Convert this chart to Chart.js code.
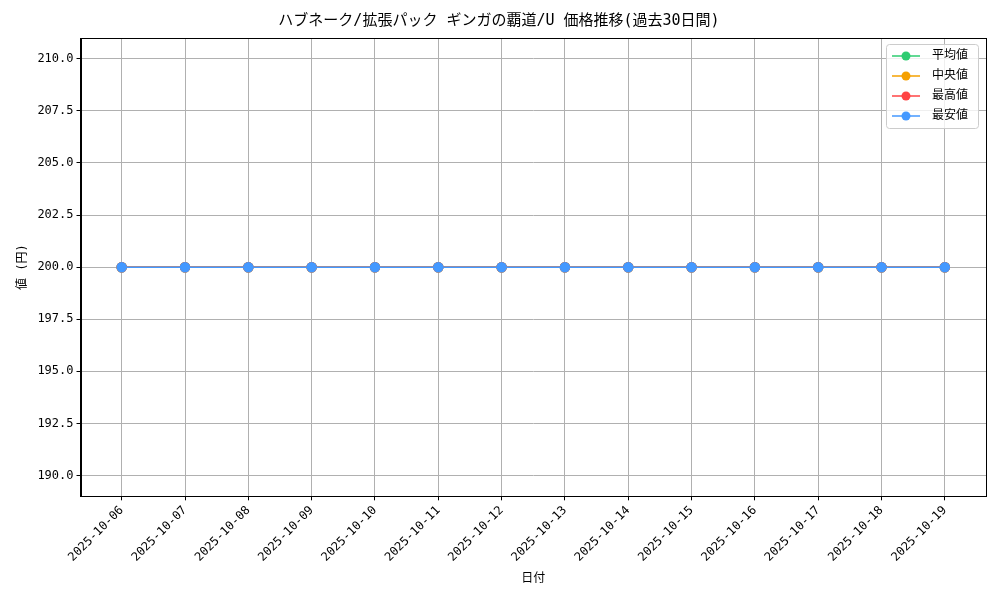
<!DOCTYPE html>
<html>
<head>
<meta charset="utf-8">
<script src="https://cdn.jsdelivr.net/npm/chart.js@4"></script>
<style>
  html, body { margin: 0; padding: 0; background: #fff; }
  #wrap { width: 1000px; height: 600px; }
</style>
</head>
<body>
<div id="wrap"><canvas id="priceChart" width="1000" height="600"></canvas></div>
<script>
const fechas = ["2025-10-06","2025-10-07","2025-10-08","2025-10-09","2025-10-10","2025-10-11","2025-10-12",
  "2025-10-13","2025-10-14","2025-10-15","2025-10-16","2025-10-17","2025-10-18","2025-10-19"];
const promedio = [200,200,200,200,200,200,200,200,200,200,200,200,200,200];
const mediana  = [200,200,200,200,200,200,200,200,200,200,200,200,200,200];
const maximo   = [200,200,200,200,200,200,200,200,200,200,200,200,200,200];
const minimo   = [200,200,200,200,200,200,200,200,200,200,200,200,200,200];
const yTicks = [190, 192.5, 195, 197.5, 200, 202.5, 205, 207.5, 210];

const FONT = "'DejaVu Sans Mono', 'Noto Sans CJK JP', monospace";

// marco completo del área de dibujo
const marco = {
  id: "marco",
  afterDatasetsDraw(chart) {
    const { ctx, chartArea: a } = chart;
    ctx.save();
    ctx.strokeStyle = "#000";
    ctx.lineWidth = 1;
    ctx.strokeRect(Math.round(a.left) + 0.5, Math.round(a.top) + 0.5,
      Math.round(a.right - a.left), Math.round(a.bottom - a.top));
    ctx.restore();
  }
};

// leyenda estilo matplotlib (línea + marcador)
const leyenda = {
  id: "leyenda",
  afterDraw(chart) {
    const ctx = chart.ctx;
    const sets = chart.data.datasets;
    const x0 = 886, y0 = 44, w = 92, h = 84;
    ctx.save();
    ctx.fillStyle = "rgba(255,255,255,0.8)";
    ctx.strokeStyle = "#cccccc";
    ctx.lineWidth = 1;
    ctx.beginPath();
    ctx.roundRect(x0 + 0.5, y0 + 0.5, w, h, 3);
    ctx.fill(); ctx.stroke();
    ctx.font = "12px " + FONT;
    ctx.textBaseline = "middle";
    sets.forEach((ds, i) => {
      const y = y0 + 12 + i * 20;
      ctx.strokeStyle = ds.borderColor;
      ctx.lineWidth = 1.5;
      ctx.beginPath(); ctx.moveTo(x0 + 6, y); ctx.lineTo(x0 + 34, y); ctx.stroke();
      ctx.fillStyle = ds.borderColor;
      ctx.beginPath(); ctx.arc(x0 + 20, y, 4.5, 0, Math.PI * 2); ctx.fill();
      ctx.fillStyle = "#000";
      ctx.fillText(ds.label, x0 + 46, y);
    });
    ctx.restore();
  }
};

function serie(label, color, vals, orden) {
  return {
    label: label,
    data: vals.map((v, i) => ({ x: i, y: v })),
    borderColor: color,
    backgroundColor: color,
    borderWidth: 1.5,
    pointRadius: 4.5,
    pointHoverRadius: 4.5,
    tension: 0,
    order: orden
  };
}

new Chart(document.getElementById("priceChart"), {
  type: "line",
  data: {
    datasets: [
      serie("平均値", "#2ecc71", promedio, 3),
      serie("中央値", "#f5a000", mediana, 2),
      serie("最高値", "#ff4444", maximo, 1),
      serie("最安値", "#4499ff", minimo, 0)
    ]
  },
  options: {
    responsive: false,
    animation: false,
    layout: { padding: { top: 6, right: 14, left: 12, bottom: 10 } },
    plugins: {
      legend: { display: false },
      tooltip: { enabled: false },
      title: {
        display: true,
        text: "ハブネーク/拡張パック ギンガの覇道/U 価格推移(過去30日間)",
        color: "#000",
        font: { family: FONT, size: 15, weight: "normal" },
        padding: { top: 6, bottom: 8 }
      }
    },
    scales: {
      x: {
        type: "linear",
        min: -0.65, max: 13.65,
        afterBuildTicks: ax => { ax.ticks = fechas.map((f, i) => ({ value: i })); },
        ticks: {
          color: "#000", font: { family: FONT, size: 12 },
          minRotation: 45, maxRotation: 45, autoSkip: false,
          callback: v => fechas[v] || ""
        },
        grid: { color: "#b0b0b0", tickColor: "#000", tickLength: 4 },
        border: { color: "#000" },
        title: { display: true, text: "日付", color: "#000", font: { family: FONT, size: 12 } }
      },
      y: {
        min: 189, max: 211,
        afterBuildTicks: ax => { ax.ticks = yTicks.map(v => ({ value: v })); },
        ticks: { color: "#000", font: { family: FONT, size: 12 }, callback: v => v.toFixed(1) },
        grid: { color: "#b0b0b0", tickColor: "#000", tickLength: 4 },
        border: { color: "#000" },
        title: { display: true, text: "値 (円)", color: "#000", font: { family: FONT, size: 12 } }
      }
    }
  },
  plugins: [marco, leyenda]
});
</script>
</body>
</html>
